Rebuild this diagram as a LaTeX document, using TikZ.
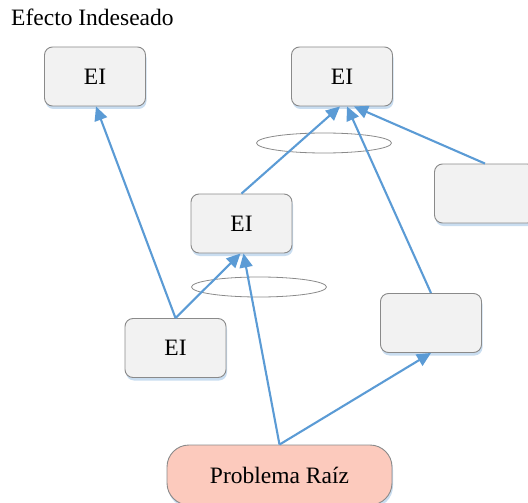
\documentclass[tikz,border=0pt]{standalone}
\usepackage{fontspec}
\setmainfont{Liberation Serif}
\usetikzlibrary{arrows.meta,shadows,shapes.geometric}
\definecolor{lineblue}{HTML}{5B9BD5}
\definecolor{boxfill}{HTML}{F2F2F2}
\definecolor{boxgray}{HTML}{8A8A8A}
\definecolor{shadowblue}{HTML}{C9DDF0}
\definecolor{rootfill}{HTML}{FCCABD}
\tikzset{
  eibox/.style={rectangle, rounded corners=8pt, minimum width=101pt, minimum height=59pt,
    draw=boxgray, fill=boxfill, line width=0.9pt, inner sep=0pt,
    drop shadow={shadow xshift=1pt, shadow yshift=-3pt, fill=shadowblue, opacity=1},
    font=\fontsize{23.5}{28}\selectfont},
  rootbox/.style={eibox, rounded corners=22pt, minimum width=225pt, minimum height=60pt, fill=rootfill},
  ring/.style={ellipse, draw=boxgray, line width=0.8pt, minimum width=135pt, minimum height=20pt, inner sep=0pt},
  link/.style={draw=lineblue, line width=2.1pt, -{Triangle[length=14pt,width=13pt]}}
}
\begin{document}
\begin{tikzpicture}[x=1pt,y=-1pt]
\useasboundingbox (0,0) rectangle (528,503);
\clip (0,0) rectangle (528,503);
\node[anchor=base west, font=\fontsize{23.5}{28}\selectfont, inner sep=0pt] (title) at (11,26) {Efecto Indeseado};
\node[eibox] (b1) at (95,76.5) {EI};
\node[eibox] (b2) at (342,76.5) {EI};
\node[eibox] (b6) at (485,193.5) {};
\node[eibox] (b3) at (241.5,223.5) {EI};
\node[eibox] (b4) at (431,323) {};
\node[eibox] (b5) at (175.5,348) {EI};
\node[rootbox] (pr) at (279.5,475) {Problema Raíz};
\node[ring] (e1) at (324,143) {};
\node[ring] (e2) at (259,287) {};
\draw[link] (b5.north) -- ([xshift=1pt]b1.south);
\draw[link] (b5.north) -- ([xshift=-1pt]b3.south);
\draw[link] (pr.north) -- ([xshift=2pt]b3.south);
\draw[link] (pr.north) -- (b4.south);
\draw[link] (b3.north) -- ([xshift=-2pt]b2.south);
\draw[link] (b4.north) -- ([xshift=5pt]b2.south);
\draw[link] (b6.north) -- ([xshift=12pt]b2.south);
\end{tikzpicture}
\end{document}
